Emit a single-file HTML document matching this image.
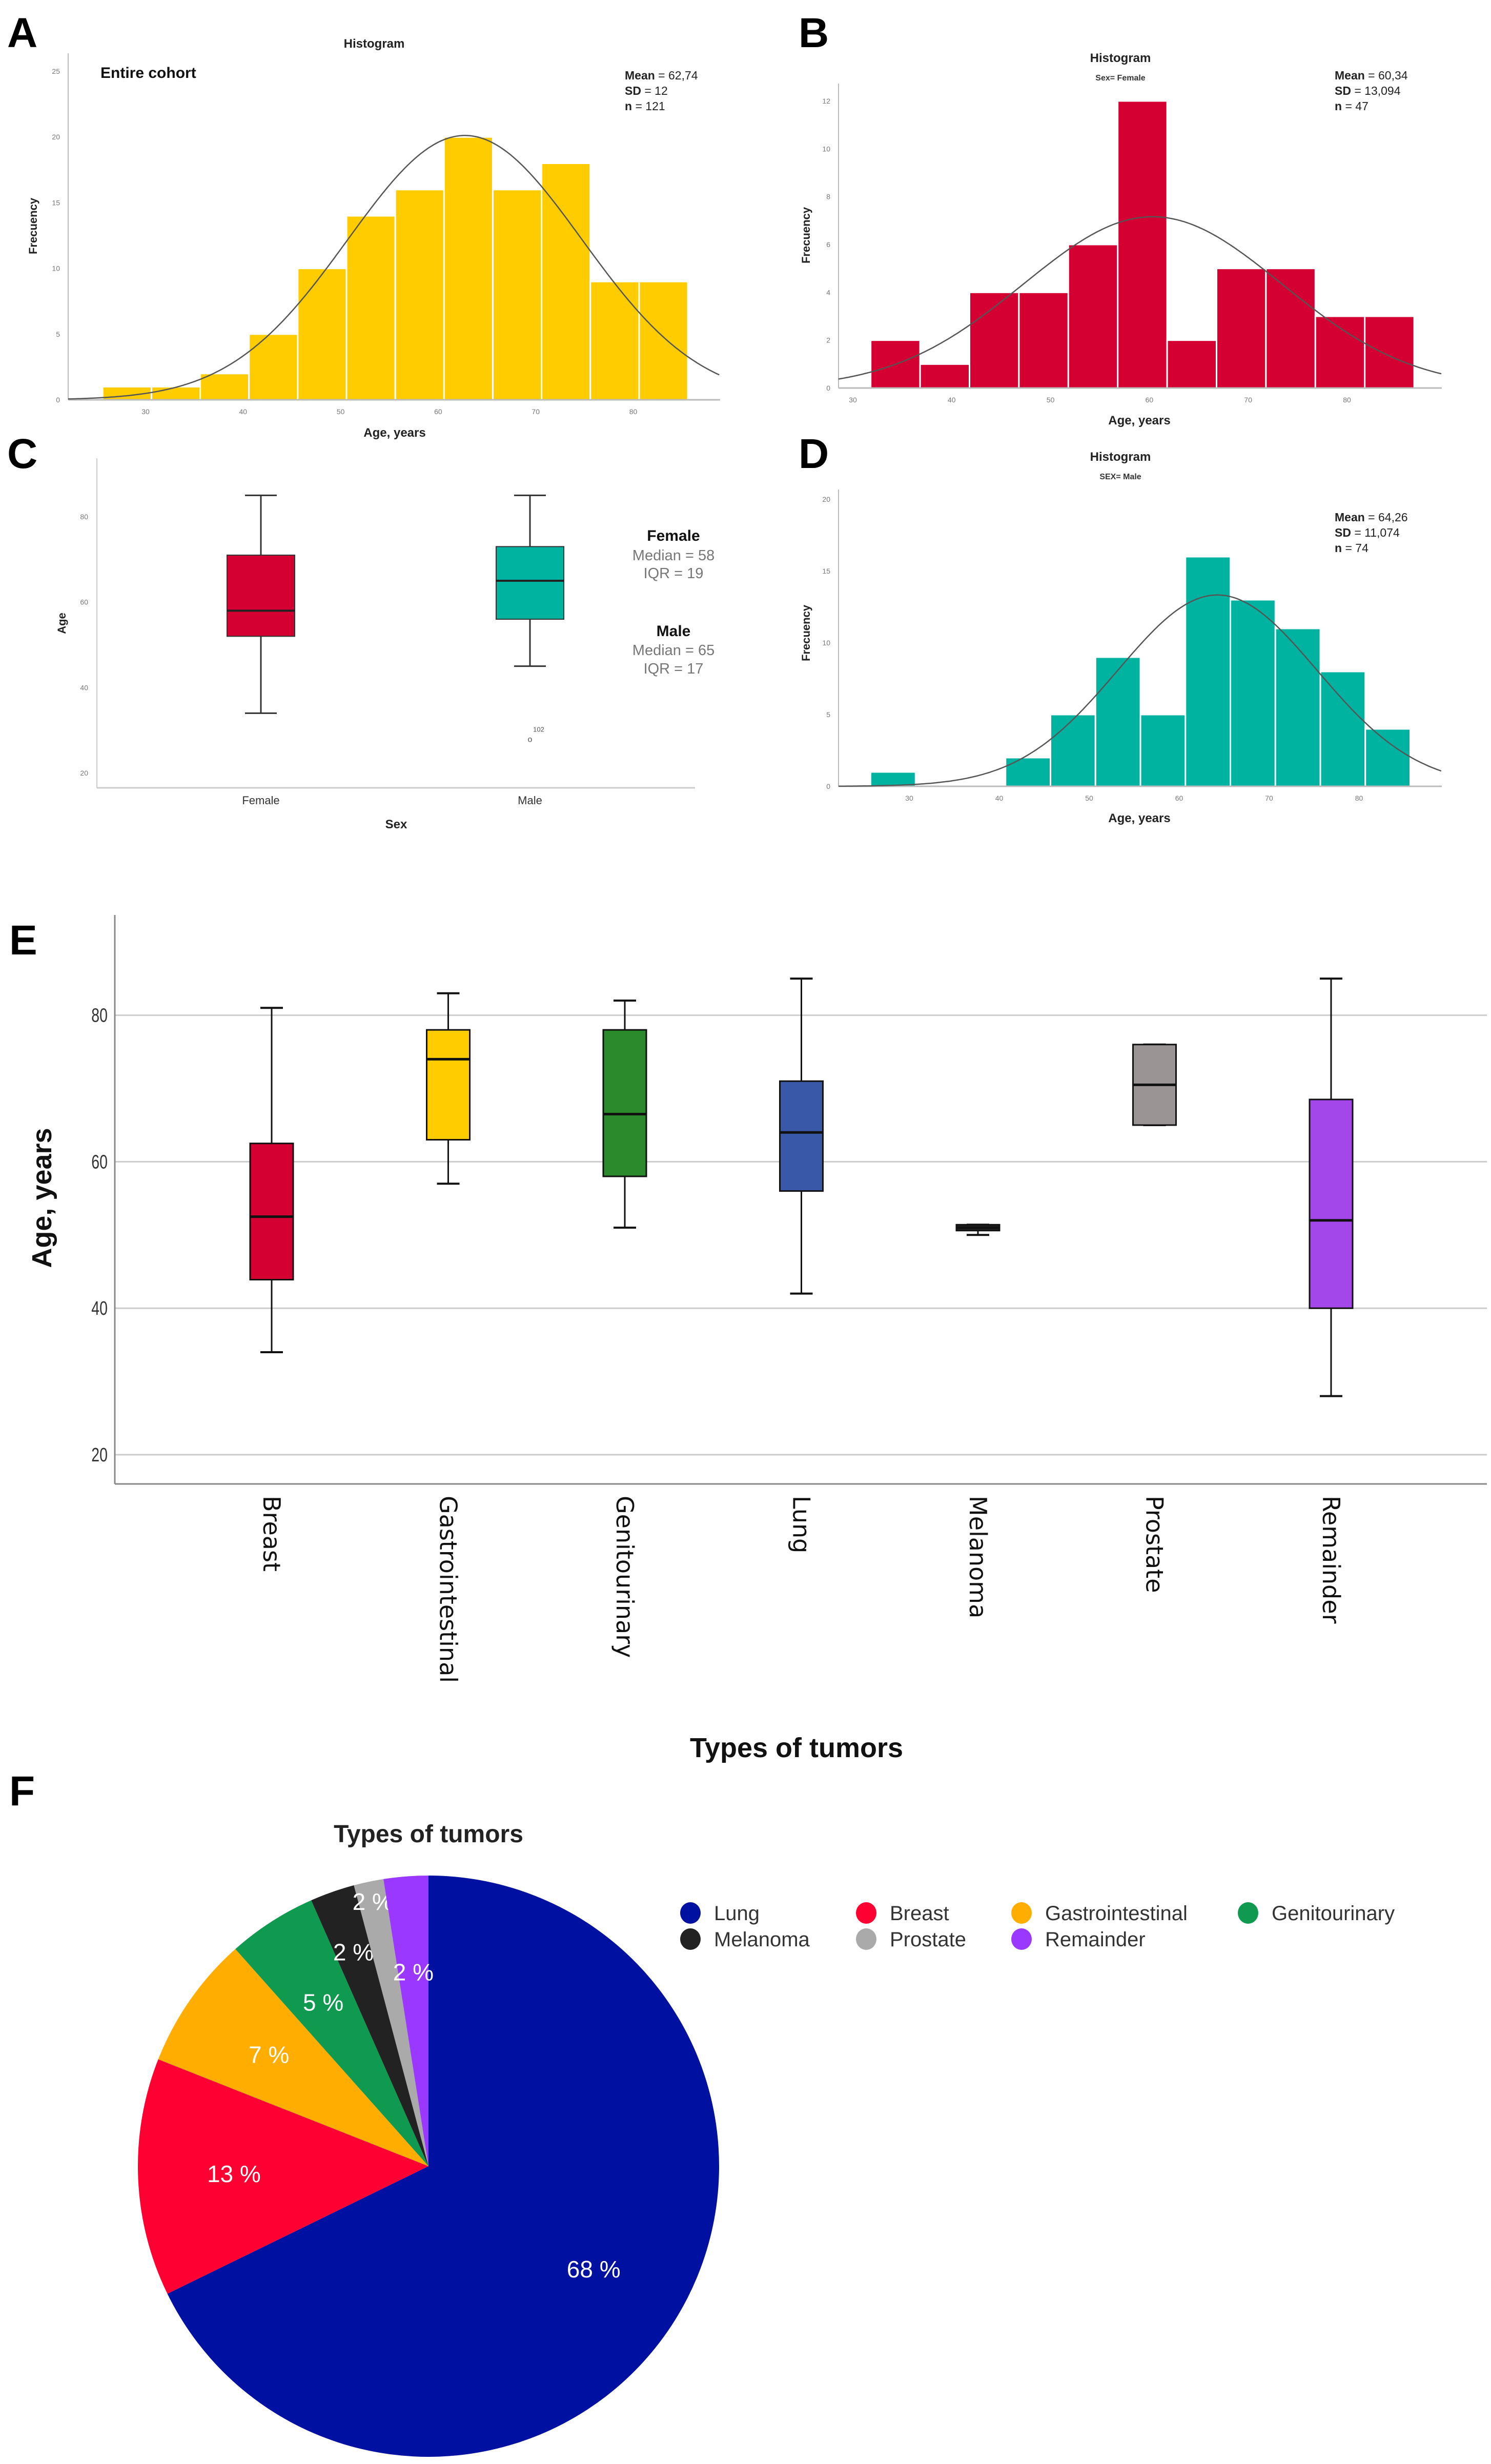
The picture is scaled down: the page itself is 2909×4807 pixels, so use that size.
<!DOCTYPE html>
<html><head><meta charset="utf-8"><style>
html,body{margin:0;padding:0;background:#fff;}
svg{display:block;font-family:"Liberation Sans",sans-serif;}
</style></head>
<body>
<svg id="fig" width="2909" height="4807" viewBox="0 0 2909 4807" xmlns="http://www.w3.org/2000/svg">
<rect x="0" y="0" width="2909" height="4807" fill="#fff"/>
<g font-weight="bold" font-size="82" fill="#000">
<text x="14" y="92">A</text>
<text x="1558" y="92">B</text>
<text x="14" y="913">C</text>
<text x="1558" y="913">D</text>
<text x="18" y="1862">E</text>
<text x="18" y="3522">F</text>
</g>
<g id="layer"></g>
</svg>
<script>
// ---------- Data ----------
const histA_counts = [1,1,2,5,10,14,16,20,16,18,9,9];
const histA_stats = [62.74, 12, 121];
const histA_yTicks = [0,5,10,15,20,25];
const histB_counts = [2,1,4,4,6,12,2,5,5,3,3];
const histB_stats = [60.34, 13.094, 47];
const histB_yTicks = [0,2,4,6,8,10,12];
const histD_counts = [1,0,0,2,5,9,5,16,13,11,8,4];
const histD_stats = [64.26, 11.074, 74];
const histD_yTicks = [0,5,10,15,20];
const ageTicks = [30,40,50,60,70,80];

const sexCategories = ["Female","Male"];
const sexMin = [34,45];
const sexQ1 = [52,56];
const sexMedian = [58,65];
const sexQ3 = [71,73];
const sexMax = [85,85];
const sexOutliers = [[],[28]];
const sexYTicks = [20,40,60,80];

const tumorCategories = ["Breast","Gastrointestinal","Genitourinary","Lung","Melanoma","Prostate","Remainder"];
const tumorMin = [34,57,51,42,50,65,28];
const tumorQ1 = [43.9,63,58,56,50.6,65,40];
const tumorMedian = [52.5,74,66.5,64,51,70.5,52];
const tumorQ3 = [62.5,78,78,71,51.4,76,68.5];
const tumorMax = [81,83,82,85,51.4,76,85];
const tumorYTicks = [20,40,60,80];

const pieLabels = ["Lung","Breast","Gastrointestinal","Genitourinary","Melanoma","Prostate","Remainder"];
const pieCounts = [82,16,9,6,3,2,3];
const piePercentText = ["68 %","13 %","7 %","5 %","2 %","2 %","2 %"];

// ---------- helpers ----------
const NS = "http://www.w3.org/2000/svg";
const layer = document.getElementById("layer");
function mk(tag, attrs, parent, txt){
  const e = document.createElementNS(NS, tag);
  for (const k in attrs) e.setAttribute(k, attrs[k]);
  if (txt !== undefined) e.textContent = txt;
  (parent || layer).appendChild(e);
  return e;
}

// ---------- Histograms ----------
function histogram(o){
  const g = mk("g", {});
  
  
  const X = a => o.x30 + (a - 30) * o.pxYear;
  const Y = v => o.base - v * o.pxUnit;
  // axes
  const ya = mk("line", {x1:o.axisX, y1:o.axisTop, x2:o.axisX, y2:o.base, stroke:"#bbb", "stroke-width":2}, g);
  
  
  o.yTicks.forEach(t => {
    const tl = mk("text", {x:o.axisX - 16, y:Y(t) + 5, "font-size":14, fill:"#777", "text-anchor":"end"}, g, String(t));
    
    
  });
  // bars
  o.counts.forEach((c, i) => {
    if (c <= 0) return;
    const a0 = o.binStart + i * 5;
    const r = mk("rect", {x:X(a0), y:Y(c), width:X(a0 + 5) - X(a0), height:o.base - Y(c), fill:o.color, stroke:"#fff", "stroke-width":3}, g);
    
    
  });
  const xa = mk("line", {x1:o.axisX, y1:o.base, x2:o.axisRight, y2:o.base, stroke:"#bbb", "stroke-width":3}, g);
  
  
  ageTicks.forEach(t => {
    const tl = mk("text", {x:X(t), y:o.base + 28, "font-size":14, fill:"#777", "text-anchor":"middle"}, g, String(t));
    
    
  });
  // normal curve
  const [m, sd, n] = o.stats;
  const k = n * 5 / (sd * Math.sqrt(2 * Math.PI));
  let d = "";
  const aStart = 30 + (o.axisX - o.x30) / o.pxYear, aEnd = 30 + (o.axisRight - o.x30) / o.pxYear;
  for (let a = aStart; a <= aEnd; a += 0.25) {
    const v = k * Math.exp(-0.5 * ((a - m) / sd) ** 2);
    d += (d ? "L" : "M") + X(a).toFixed(1) + "," + Y(v).toFixed(1);
  }
  const cv = mk("path", {d:d, fill:"none", stroke:"#555", "stroke-width":2.5}, g);
  
  
  // texts
  const t1 = mk("text", {x:o.titleX, y:o.titleY, "font-size":24, "font-weight":"bold", fill:"#222", "text-anchor":"middle"}, g, "Histogram");
  
  
  if (o.sub) {
    const t2 = mk("text", {x:o.titleX, y:o.titleY + 36, "font-size":16, "font-weight":"bold", fill:"#333", "text-anchor":"middle"}, g, o.sub);
    
    
  }
  const lines = [["Mean", " = " + m.toFixed(2).replace(".", ",")], ["SD", " = " + String(sd).replace(".", ",")], ["n", " = " + n]];
  lines.forEach((l, i) => {
    const t = mk("text", {x:o.statX, y:o.statY + i * 30, "font-size":23, fill:"#222"}, g);
    
    
    mk("tspan", {"font-weight":"bold"}, t, l[0]);
    mk("tspan", {}, t, l[1]);
  });
  const yl = mk("text", {transform:`translate(${o.ylabX},${o.ylabY}) rotate(-90)`, "font-size":22, "font-weight":"bold", fill:"#222", "text-anchor":"middle"}, g, "Frecuency");
  
  
  const xl = mk("text", {x:o.xlabX, y:o.xlabY, "font-size":24, "font-weight":"bold", fill:"#222", "text-anchor":"middle"}, g, "Age, years");
  
  
  return g;
}

histogram({name:"histogram-entire-cohort", counts:histA_counts, stats:histA_stats, yTicks:histA_yTicks, color:"#ffcc00",
  x30:284, pxYear:19.03, binStart:25.6, base:780, pxUnit:25.64, axisX:133, axisTop:104, axisRight:1405,
  titleX:730, titleY:93, statX:1219, statY:155, ylabX:72, ylabY:441, xlabX:770, xlabY:852});
const ec = mk("text", {x:196, y:152, "font-size":30, "font-weight":"bold", fill:"#111"}, undefined, "Entire cohort");



histogram({name:"histogram-female", counts:histB_counts, stats:histB_stats, yTicks:histB_yTicks, color:"#d50032",
  x30:1664, pxYear:19.28, binStart:31.8, base:757, pxUnit:46.67, axisX:1636, axisTop:163, axisRight:2813,
  titleX:2186, titleY:121, sub:"Sex= Female", statX:2604, statY:155, ylabX:1580, ylabY:459, xlabX:2223, xlabY:828});

histogram({name:"histogram-male", counts:histD_counts, stats:histD_stats, yTicks:histD_yTicks, color:"#00b3a0",
  x30:1774, pxYear:17.55, binStart:25.7, base:1534, pxUnit:28, axisX:1636, axisTop:955, axisRight:2813,
  titleX:2186, titleY:899, sub:"SEX= Male", statX:2604, statY:1017, ylabX:1580, ylabY:1235, xlabX:2223, xlabY:1604});

// ---------- Boxplot by sex (C) ----------
(function(){
  const g = mk("g", {});
  
  
  const Y = a => 1508 - (a - 20) * 8.333;
  const X = i => 509 + i * 525;
  const colors = ["#d50032","#00b3a0"];
  mk("line", {x1:189, y1:894, x2:189, y2:1537, stroke:"#ccc", "stroke-width":2}, g);
  mk("line", {x1:189, y1:1537, x2:1356, y2:1537, stroke:"#ccc", "stroke-width":3}, g);
  sexYTicks.forEach(t => {
    const tl = mk("text", {x:172, y:Y(t) + 5, "font-size":14, fill:"#777", "text-anchor":"end"}, g, String(t));
    
    
  });
  sexCategories.forEach((c, i) => {
    const cx = X(i);
    const w = mk("line", {x1:cx, y1:Y(sexMax[i]), x2:cx, y2:Y(sexMin[i]), stroke:"#333", "stroke-width":3}, g);
    
    
    [sexMax[i], sexMin[i]].forEach(v => mk("line", {x1:cx - 31, y1:Y(v), x2:cx + 31, y2:Y(v), stroke:"#333", "stroke-width":3}, g));
    const b = mk("rect", {x:cx - 66, y:Y(sexQ3[i]), width:132, height:Y(sexQ1[i]) - Y(sexQ3[i]), fill:colors[i], stroke:"#333", "stroke-width":2}, g);
    
    
    const md = mk("line", {x1:cx - 66, y1:Y(sexMedian[i]), x2:cx + 66, y2:Y(sexMedian[i]), stroke:"#222", "stroke-width":4}, g);
    
    
    sexOutliers[i].forEach(v => {
      const o = mk("text", {x:cx, y:Y(v) + 6, "font-size":16, fill:"#555", "text-anchor":"middle"}, g, "o");
      
      
      mk("text", {x:cx + 17, y:Y(v) - 14, "font-size":13, fill:"#555", "text-anchor":"middle"}, g, "102");
    });
    const xl = mk("text", {x:cx, y:1569, "font-size":22, fill:"#333", "text-anchor":"middle"}, g, c);
    
    
  });
  const sx = mk("text", {x:773, y:1616, "font-size":24, "font-weight":"bold", fill:"#222", "text-anchor":"middle"}, g, "Sex");
  
  
  const ay = mk("text", {transform:"translate(128,1216) rotate(-90)", "font-size":22, "font-weight":"bold", fill:"#222", "text-anchor":"middle"}, g, "Age");
  
  
  const ann = [["Female",1055,true],["Median = 58",1093,false],["IQR = 19",1128,false],["Male",1241,true],["Median = 65",1278,false],["IQR = 17",1314,false]];
  ann.forEach(a => {
    const t = mk("text", {x:1314, y:a[1], "font-size":a[2] ? 30 : 29, "font-weight":a[2] ? "bold" : "normal", fill:a[2] ? "#111" : "#777", "text-anchor":"middle"}, g, a[0]);
    
    
  });
})();

// ---------- Boxplot by tumor type (E) ----------
(function(){
  const g = mk("g", {});
  
  
  const Y = a => 2838 - (a - 20) * 14.29;
  const X = i => 530 + i * 344.5;
  const colors = ["#d50032","#ffcc00","#2a8a2c","#3a58a8","#222","#9a9494","#a346ea"];
  tumorYTicks.forEach(t => {
    const gl = mk("line", {x1:224, y1:Y(t), x2:2901, y2:Y(t), stroke:"#ccc", "stroke-width":3}, g);
    
    
    const tl = mk("text", {x:210, y:Y(t) + 13, "font-size":38, fill:"#333", "text-anchor":"end", transform:`translate(${210*0.25},0) scale(0.75,1)`}, g, String(t));
    
    
  });
  mk("line", {x1:224, y1:1785, x2:224, y2:2895, stroke:"#888", "stroke-width":3}, g);
  mk("line", {x1:224, y1:2895, x2:2901, y2:2895, stroke:"#888", "stroke-width":3}, g);
  tumorCategories.forEach((c, i) => {
    const cx = X(i);
    const w = mk("line", {x1:cx, y1:Y(tumorMax[i]), x2:cx, y2:Y(tumorMin[i]), stroke:"#111", "stroke-width":3}, g);
    
    
    [tumorMax[i], tumorMin[i]].forEach(v => mk("line", {x1:cx - 22, y1:Y(v), x2:cx + 22, y2:Y(v), stroke:"#111", "stroke-width":4}, g));
    const b = mk("rect", {x:cx - 42, y:Y(tumorQ3[i]), width:84, height:Math.max(Y(tumorQ1[i]) - Y(tumorQ3[i]), 2), fill:colors[i], stroke:"#111", "stroke-width":3}, g);
    
    
    const md = mk("line", {x1:cx - 42, y1:Y(tumorMedian[i]), x2:cx + 42, y2:Y(tumorMedian[i]), stroke:"#111", "stroke-width":5}, g);
    
    
    const tl = mk("text", {transform:`translate(${cx},2918) rotate(90)`, "font-family":"DejaVu Sans, sans-serif", "font-size":46, fill:"#111", "dominant-baseline":"central"}, g, c);
    
    
  });
  const yl = mk("text", {transform:"translate(100,2337) rotate(-90)", "font-size":54, "font-weight":"bold", fill:"#111", "text-anchor":"middle"}, g, "Age, years");
  
  
  const xl = mk("text", {x:1554, y:3428, "font-size":54, "font-weight":"bold", fill:"#111", "text-anchor":"middle"}, g, "Types of tumors");
  
  
})();

// ---------- Pie (F) ----------
(function(){
  const g = mk("g", {});
  
  
  const cx = 836, cy = 4226, R = 567;
  const colors = ["#0010a0","#ff0033","#ffad00","#109a4f","#222222","#aaaaaa","#9b38ff"];
  const labelR = [0.67,0.67,0.67,0.67,0.78,0.93,0.67];
  const total = pieCounts.reduce((a, b) => a + b, 0);
  const pt = (ang, r) => [cx + r * Math.sin(ang), cy - r * Math.cos(ang)];
  let acc = 0;
  pieCounts.forEach((v, i) => {
    const a0 = acc / total * 2 * Math.PI;
    acc += v;
    const a1 = acc / total * 2 * Math.PI;
    const p0 = pt(a0, R), p1 = pt(a1, R);
    const large = (a1 - a0) > Math.PI ? 1 : 0;
    const s = mk("path", {d:`M${cx},${cy}L${p0[0]},${p0[1]}A${R},${R} 0 ${large} 1 ${p1[0]},${p1[1]}Z`, fill:colors[i]}, g);
    
    
    const lp = pt((a0 + a1) / 2, R * labelR[i]);
    const t = mk("text", {x:lp[0], y:lp[1] + 16, "font-size":46, fill:"#fff", "text-anchor":"middle"}, g, piePercentText[i]);
    
    
  });
  const tt = mk("text", {x:836, y:3594, "font-size":48, "font-weight":"bold", fill:"#222", "text-anchor":"middle"}, g, "Types of tumors");
  
  
  const lx = [1347,1690,1993,2435];
  pieLabels.forEach((l, i) => {
    const col = i < 4 ? i : i - 4, row = i < 4 ? 0 : 1;
    const e = mk("g", {}, g);
    
    
    mk("ellipse", {cx:lx[col], cy:3732 + row * 51, rx:20, ry:21, fill:colors[i]}, e);
    mk("text", {x:lx[col] + 46, y:3746 + row * 51, "font-size":40, fill:"#333"}, e, l);
  });
})();
</script>
</body></html>
